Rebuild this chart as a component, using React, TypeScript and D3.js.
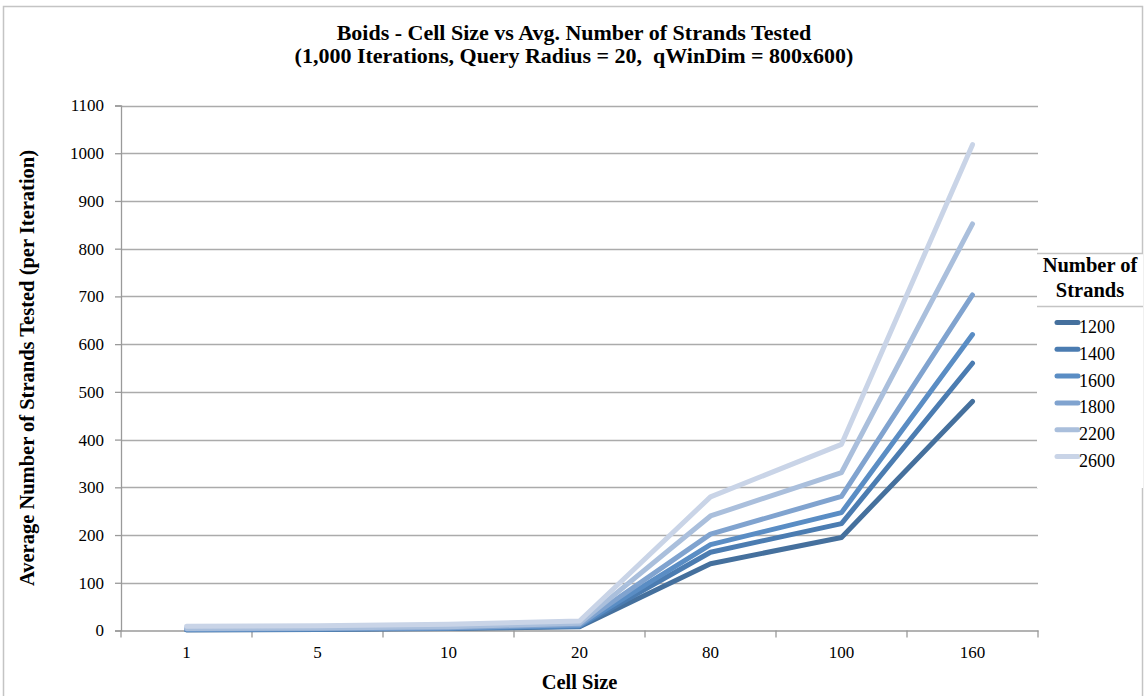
import { useRef, useEffect } from "react";
import * as d3 from "d3";

const cellSizes = ["1", "5", "10", "20", "80", "100", "160"];
const strandCounts = ["1200", "1400", "1600", "1800", "2200", "2600"];
const strands1200 = [1, 2, 4, 8, 140, 195, 480];
const strands1400 = [2, 3, 5, 9, 164, 224, 560];
const strands1600 = [2, 3, 5, 10, 180, 247, 620];
const strands1800 = [3, 4, 6, 12, 202, 281, 703];
const strands2200 = [4, 5, 8, 15, 240, 331, 852];
const strands2600 = [9, 10, 13, 20, 280, 390, 1018];
const yTicks = [0, 100, 200, 300, 400, 500, 600, 700, 800, 900, 1000, 1100];

const seriesValues = [strands1200, strands1400, strands1600, strands1800, strands2200, strands2600];
const lineColors = ["#45709d", "#4b7cb1", "#5a8dc4", "#80a3cf", "#aabfdc", "#c9d4e7"];

const W = 1148;
const H = 696;
const serif = "'Liberation Serif', 'Times New Roman', serif";

export default function App() {
  const svgRef = useRef<SVGSVGElement>(null);

  useEffect(() => {
    const svg = d3.select(svgRef.current);
    svg.selectAll("*").remove();

    const left = 121;
    const right = 1038;
    const top = 105.5;
    const bottom = 630.5;

    const x = d3.scaleBand<string>().domain(cellSizes).range([left, right]);
    const y = d3.scaleLinear().domain([0, 1100]).range([bottom, top]);

    svg.attr("font-family", serif);

    // outer frame
    svg
      .append("rect")
      .attr("x", 3.5)
      .attr("y", 6.5)
      .attr("width", 1139)
      .attr("height", 700)
      .attr("fill", "#fff")
      .attr("stroke", "#c4c4c4")
      .attr("stroke-width", 1.5);

    // title
    const title = svg
      .append("text")
      .attr("text-anchor", "middle")
      .attr("font-weight", "bold")
      .attr("font-size", 22)
      .attr("fill", "#000");
    title.append("tspan").attr("x", 574).attr("y", 40).text("Boids - Cell Size vs Avg. Number of Strands Tested");
    title
      .append("tspan")
      .attr("x", 574)
      .attr("y", 63)
      .attr("xml:space", "preserve")
      .style("white-space", "pre")
      .text("(1,000 Iterations, Query Radius = 20,  qWinDim = 800x600)");

    // gridlines
    svg
      .append("g")
      .selectAll("line")
      .data(yTicks.filter((d) => d > 0))
      .join("line")
      .attr("x1", left)
      .attr("x2", right)
      .attr("y1", (d) => Math.round(y(d)) + 0.5)
      .attr("y2", (d) => Math.round(y(d)) + 0.5)
      .attr("stroke", "#ababab")
      .attr("stroke-width", 1.3);

    // y axis
    const yAxis = svg
      .append("g")
      .attr("transform", `translate(${left},0)`)
      .call(d3.axisLeft(y).tickValues(yTicks).tickSize(6).tickPadding(11).tickFormat(d3.format("d")));
    yAxis.attr("font-family", serif);
    yAxis.select(".domain").attr("stroke", "#9a9a9a").attr("stroke-width", 1.3);
    yAxis.selectAll(".tick line").attr("stroke", "#9a9a9a").attr("stroke-width", 1.3);
    yAxis
      .selectAll(".tick text")
      .attr("font-family", serif)
      .attr("font-size", 17)
      .attr("fill", "#000");

    // x axis
    const xAxis = svg
      .append("g")
      .attr("transform", `translate(0,${bottom})`)
      .call(d3.axisBottom(x).tickSize(0).tickPadding(15));
    xAxis.attr("font-family", serif);
    xAxis.select(".domain").attr("stroke", "#9a9a9a").attr("stroke-width", 1.3);
    xAxis
      .selectAll(".tick text")
      .attr("font-family", serif)
      .attr("font-size", 17)
      .attr("fill", "#000");
    svg
      .append("g")
      .selectAll("line")
      .data([...cellSizes.map((c) => x(c)!), right])
      .join("line")
      .attr("x1", (d) => d)
      .attr("x2", (d) => d)
      .attr("y1", bottom)
      .attr("y2", bottom + 7)
      .attr("stroke", "#9a9a9a")
      .attr("stroke-width", 1.3);

    // axis titles
    svg
      .append("text")
      .attr("x", (left + right) / 2)
      .attr("y", 689)
      .attr("text-anchor", "middle")
      .attr("font-weight", "bold")
      .attr("font-size", 20.5)
      .text("Cell Size");
    svg
      .append("text")
      .attr("transform", `translate(34,${(top + bottom) / 2}) rotate(-90)`)
      .attr("text-anchor", "middle")
      .attr("font-weight", "bold")
      .attr("font-size", 20.5)
      .text("Average Number of Strands Tested (per Iteration)");

    // lines
    const line = d3
      .line<number>()
      .x((_, i) => x(cellSizes[i])! + x.bandwidth() / 2)
      .y((d) => y(d));

    svg
      .append("g")
      .selectAll("path")
      .data(seriesValues)
      .join("path")
      .attr("d", (d) => line(d))
      .attr("fill", "none")
      .attr("stroke", (_, i) => lineColors[i])
      .attr("stroke-width", 5)
      .attr("stroke-linecap", "round")
      .attr("stroke-linejoin", "round");

    // legend
    const lg = svg.append("g");
    lg.append("rect").attr("x", 1037).attr("y", 253).attr("width", 106).attr("height", 235).attr("fill", "#fff");
    lg.append("line").attr("x1", 1037).attr("x2", 1143).attr("y1", 253.5).attr("y2", 253.5).attr("stroke", "#c4c4c4").attr("stroke-width", 1.3);
    lg.append("line").attr("x1", 1037).attr("x2", 1143).attr("y1", 306.5).attr("y2", 306.5).attr("stroke", "#c4c4c4").attr("stroke-width", 1.3);
    const lt = lg
      .append("text")
      .attr("text-anchor", "middle")
      .attr("font-weight", "bold")
      .attr("font-size", 20.5)
      .attr("fill", "#000");
    lt.append("tspan").attr("x", 1090).attr("y", 272).text("Number of");
    lt.append("tspan").attr("x", 1090).attr("y", 297).text("Strands");

    const rows = lg
      .selectAll("g.row")
      .data(strandCounts)
      .join("g")
      .attr("class", "row")
      .attr("transform", (_, i) => `translate(0,${322.5 + i * 26.8})`);
    rows
      .append("line")
      .attr("x1", 1057)
      .attr("x2", 1078)
      .attr("y1", 0)
      .attr("y2", 0)
      .attr("stroke", (_, i) => lineColors[i])
      .attr("stroke-width", 5)
      .attr("stroke-linecap", "round");
    rows
      .append("text")
      .attr("x", 1079)
      .attr("y", 10.5)
      .attr("font-size", 18)
      .attr("fill", "#000")
      .text((d) => d);
  }, []);

  return (
    <svg
      ref={svgRef}
      width={W}
      height={H}
      style={{ position: "absolute", left: 0, top: 0, background: "#fff" }}
    ></svg>
  );
}
